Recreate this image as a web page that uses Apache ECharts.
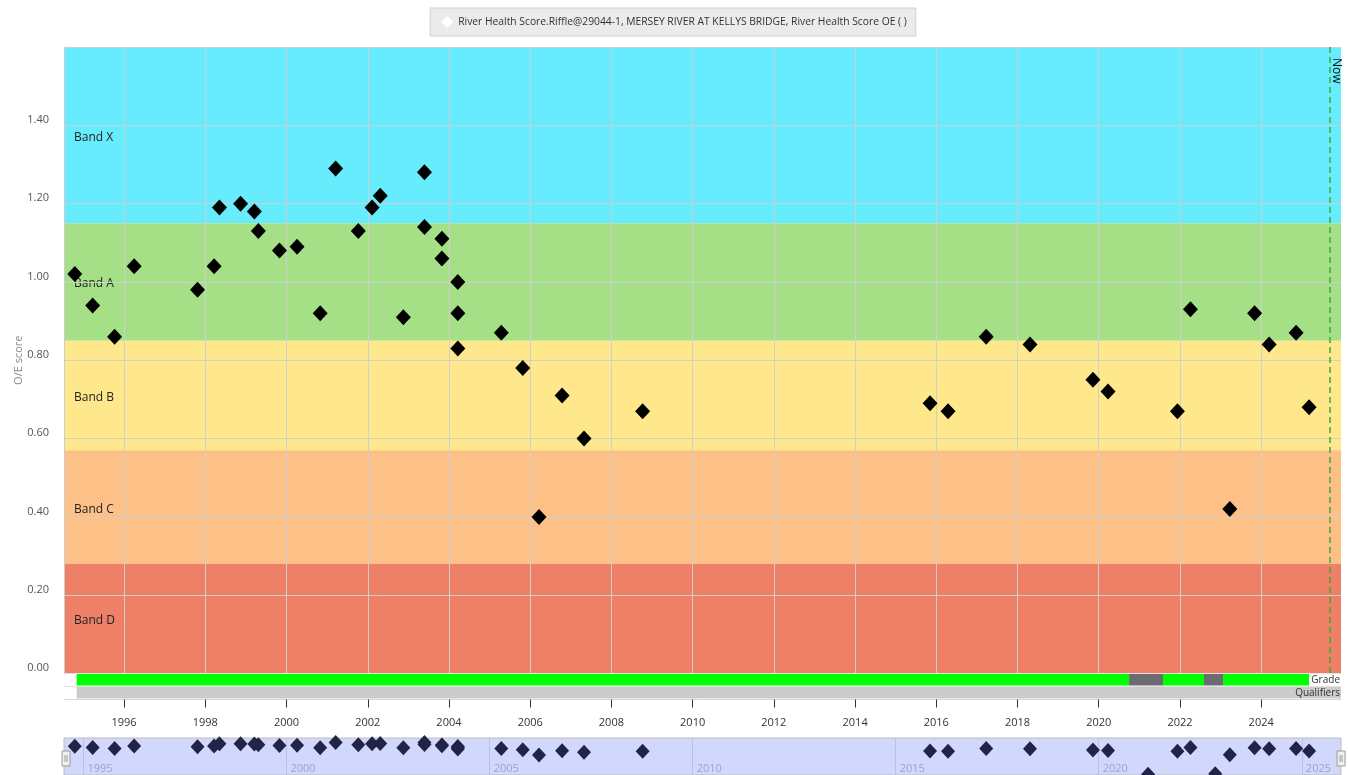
<!DOCTYPE html>
<html>
<head>
<meta charset="utf-8">
<script src="https://cdn.jsdelivr.net/npm/echarts@6/dist/echarts.min.js"></script>
<style>
html,body{margin:0;padding:0;background:#fff;}
#chart{width:1348px;height:775px;}
</style>
</head>
<body>
<div id="chart"></div>
<script>
// ---------------- data ----------------
const seriesName = 'River Health Score.Riffle@29044-1, MERSEY RIVER AT KELLYS BRIDGE, River Health Score OE ( )';

const sampleDates = [
  '1994-10-15','1995-03-25','1995-10-08','1996-04-01','1997-10-23',
  '1998-03-21','1998-05-08','1998-11-14','1999-03-18','1999-04-23',
  '1999-10-30','2000-04-05','2000-10-30','2001-03-18','2001-10-08',
  '2002-02-09','2002-04-23','2002-11-17','2003-05-26','2003-05-26',
  '2003-10-30','2003-10-30','2004-03-21','2004-03-21','2004-03-21',
  '2005-04-16','2005-10-26','2006-03-21','2006-10-15','2007-04-30',
  '2008-10-08','2015-11-06','2016-04-16','2017-03-25','2018-04-23',
  '2019-11-10','2020-03-25','2021-12-09','2022-04-05','2023-03-25',
  '2023-11-03','2024-03-13','2024-11-10','2025-03-07'
];
const oeScores = [
  1.02, 0.94, 0.86, 1.04, 0.98,
  1.04, 1.19, 1.20, 1.18, 1.13,
  1.08, 1.09, 0.92, 1.29, 1.13,
  1.19, 1.22, 0.91, 1.28, 1.14,
  1.11, 1.06, 1.00, 0.92, 0.83,
  0.87, 0.78, 0.40, 0.71, 0.60,
  0.67, 0.69, 0.67, 0.86, 0.84,
  0.75, 0.72, 0.67, 0.93, 0.42,
  0.92, 0.84, 0.87, 0.68
];
// samples without a score (shown only in the navigator, below the range)
const unscoredDates = ['2021-03-20', '2022-11-14'];
const unscoredNavigatorValues = [-0.95, -0.92];

const xMin = '1994-07-10';
const xMax = '2025-12-19';
const nowDate = '2025-09-09';

const mainTickYears = [1996,1998,2000,2002,2004,2006,2008,2010,2012,2014,2016,2018,2020,2022,2024];
const navigatorTickYears = [1995,2000,2005,2010,2015,2020,2025];

const bandNames = ['Band X','Band A','Band B','Band C','Band D'];
const bandLower = [1.15, 0.85, 0.57, 0.28, 0.00];
const bandUpper = [1.60, 1.15, 0.85, 0.57, 0.28];
const bandColors = ['#67ECFE','#A5E086','#FFE78B','#FDC188','#EF8068'];

const gradeStart = ['1994-11-01','2020-09-30','2021-08-01','2022-08-05','2023-01-23'];
const gradeEnd   = ['2020-09-30','2021-08-01','2022-08-05','2023-01-23','2025-03-07'];
const gradeColors = ['#00FF00','#6E6A72','#00FF00','#6E6A72','#00FF00'];
const qualifierStart = ['1994-11-01'];
const qualifierEnd   = ['2025-12-19'];
const rowNames = ['Qualifiers','Grade'];

// ---------------- helpers ----------------
function ts(s){ const p = s.split('-').map(Number); return new Date(p[0], p[1]-1, p[2]).getTime(); }
function yearTs(y){ return new Date(y, 0, 1).getTime(); }
const FONT = '"Open Sans", "Noto Sans", sans-serif';

const mainTicks = mainTickYears.map(yearTs);
const navTicks = navigatorTickYears.map(yearTs);
const yearFmt = v => String(new Date(v).getFullYear());

const points = sampleDates.map((d,i) => [ts(d), oeScores[i]]);
const navPoints = points.concat(unscoredDates.map((d,i) => [ts(d), unscoredNavigatorValues[i]]));

const bandData = bandNames.map((n,i) => ({ value: [ts(xMin), bandLower[i], bandUpper[i], i] }));

const segData = [];
gradeStart.forEach((s,i) => segData.push({ value: [ts(s), ts(gradeEnd[i]), 1], itemStyle: { color: gradeColors[i] } }));
qualifierStart.forEach((s,i) => segData.push({ value: [ts(s), ts(qualifierEnd[i]), 0], itemStyle: { color: '#CBCBCB' } }));

const chart = echarts.init(document.getElementById('chart'), null, { renderer: 'canvas' });

const xBase = { type: 'value', min: ts(xMin), max: ts(xMax), scale: true, z: 3 };
const gridBase = { left: 64, right: 7, containLabel: false, outerBoundsMode: 'none' };

const option = {
  animation: false,
  textStyle: { fontFamily: FONT },
  legend: {
    top: 8,
    left: 'center',
    data: [{ name: seriesName, icon: 'diamond', itemStyle: { color: '#ffffff', borderWidth: 0 } }],
    backgroundColor: '#EBEBEB',
    borderColor: '#CFCFCF',
    borderWidth: 1,
    padding: [8, 9, 8, 11],
    itemWidth: 12,
    itemHeight: 12,
    selectedMode: false,
    textStyle: { fontSize: 10.3, color: '#333', fontFamily: FONT }
  },
  grid: [
    Object.assign({}, gridBase, { top: 47, height: 626.5 }),
    Object.assign({}, gridBase, { top: 673.5, height: 26 }),
    Object.assign({}, gridBase, { top: 738, height: 37, show: true, backgroundColor: '#D1D8FB', borderColor: '#BDBDBD', borderWidth: 1 })
  ],
  xAxis: [
    Object.assign({}, xBase, {
      gridIndex: 0,
      axisLine: { show: false },
      axisTick: { show: false, customValues: mainTicks },
      axisLabel: { show: false, customValues: mainTicks, formatter: yearFmt },
      splitLine: { show: true, lineStyle: { color: '#CFCFCF', width: 1 } }
    }),
    Object.assign({}, xBase, {
      gridIndex: 1,
      axisLine: { show: true, lineStyle: { color: '#D9D9D9' } },
      axisTick: { show: true, length: 8, lineStyle: { color: '#333' }, customValues: mainTicks },
      axisLabel: { customValues: mainTicks, formatter: yearFmt, margin: 18, fontSize: 11, color: '#333' },
      splitLine: { show: false }
    }),
    Object.assign({}, xBase, {
      gridIndex: 2,
      axisLine: { show: false },
      axisTick: { show: false, customValues: navTicks },
      axisLabel: { customValues: navTicks, formatter: yearFmt, inside: true, align: 'left', padding: [0,0,0,4], margin: 1, fontSize: 11, color: '#9AA2CE' },
      splitLine: { show: true, lineStyle: { color: '#B8C0EC' } }
    })
  ],
  yAxis: [
    {
      type: 'value', gridIndex: 0, min: 0, max: 1.6, interval: 0.2, z: 3,
      name: 'O/E score', nameLocation: 'middle', nameGap: 40, nameMoveOverlap: false,
      nameTextStyle: { color: '#8A8A8A', fontSize: 11 },
      axisLine: { show: true, lineStyle: { color: '#CCCCCC' } },
      axisTick: { show: false },
      axisLabel: { formatter: v => (v > 1.59 ? '' : v.toFixed(2)), color: '#555', fontSize: 11, margin: 15, verticalAlign: 'bottom' },
      splitLine: { show: true, lineStyle: { color: '#CFCFCF' } }
    },
    {
      type: 'category', gridIndex: 1, data: rowNames, position: 'right', z: 3,
      axisLine: { show: false },
      axisTick: { show: false },
      axisLabel: { inside: true, interval: 0, hideOverlap: false, margin: 1, fontSize: 10, color: '#333' },
      splitLine: { show: true, interval: 0, lineStyle: { color: '#E2E2E2' } }
    },
    {
      type: 'value', gridIndex: 2, min: -1.0, max: 1.6, show: false
    }
  ],
  dataZoom: [{
    type: 'slider', xAxisIndex: [0, 1], filterMode: 'none',
    left: 64, right: 7, top: 738, height: 41,
    start: 0, end: 100,
    backgroundColor: 'rgba(0,0,0,0)', borderColor: 'rgba(0,0,0,0)', fillerColor: 'rgba(0,0,0,0)',
    showDetail: false, showDataShadow: false, brushSelect: false,
    moveHandleSize: 0,
    handleIcon: 'path://M0,0H8V15H0Z M3,4V11 M5,4V11',
    handleSize: 15,
    handleStyle: { color: '#F0F0F0', borderColor: '#9A9A9A', borderWidth: 1 },
    emphasis: { handleStyle: { color: '#F0F0F0', borderColor: '#9A9A9A', borderWidth: 1 } }
  }],
  series: [
    {
      name: 'bands', type: 'custom', xAxisIndex: 0, yAxisIndex: 0, z: 1, silent: true,
      encode: { x: 0, y: [1, 2] },
      data: bandData,
      renderItem: function (params, api) {
        const cs = params.coordSys;
        const i = api.value(3);
        const yTop = api.coord([api.value(0), api.value(2)])[1];
        const yBot = api.coord([api.value(0), api.value(1)])[1];
        return {
          type: 'group',
          children: [
            { type: 'rect', shape: { x: cs.x, y: yTop, width: cs.width, height: yBot - yTop }, style: { fill: bandColors[i] } },
            { type: 'text', style: { text: bandNames[i], x: cs.x + 10, y: (yTop + yBot) / 2 + 2, verticalAlign: 'middle', fill: '#222', font: '12px ' + FONT } }
          ]
        };
      }
    },
    {
      name: seriesName, type: 'scatter', xAxisIndex: 0, yAxisIndex: 0, z: 5,
      symbol: 'diamond', symbolSize: [15, 16],
      itemStyle: { color: '#000000', opacity: 1 },
      data: points,
      markLine: {
        silent: true, symbol: ['none', 'none'],
        lineStyle: { color: '#3AA83A', type: [6, 4], width: 1.5, opacity: 1 },
        label: { show: true, formatter: 'Now', position: 'insideStartTop', distance: [11, 1], color: '#111', fontSize: 12, fontFamily: FONT },
        data: [[ { coord: [ts(nowDate), 1.6] }, { coord: [ts(nowDate), 0] } ]]
      }
    },
    {
      name: 'gradeQualifiers', type: 'custom', xAxisIndex: 1, yAxisIndex: 1, z: 2, silent: true,
      encode: { x: [0, 1], y: 2 },
      data: segData,
      renderItem: function (params, api) {
        const s = api.coord([api.value(0), api.value(2)]);
        const e = api.coord([api.value(1), api.value(2)]);
        const h = api.size([0, 1])[1];
        return { type: 'rect', shape: { x: s[0], y: s[1] - h / 2, width: e[0] - s[0], height: h - 1 }, style: { fill: api.visual('color') } };
      }
    },
    {
      name: 'navigator', type: 'scatter', xAxisIndex: 2, yAxisIndex: 2, z: 5, silent: true,
      symbol: 'diamond', symbolSize: [14, 15],
      itemStyle: { color: '#1F2448', opacity: 1 },
      data: navPoints
    }
  ]
};
chart.setOption(option);
</script>
</body>
</html>
